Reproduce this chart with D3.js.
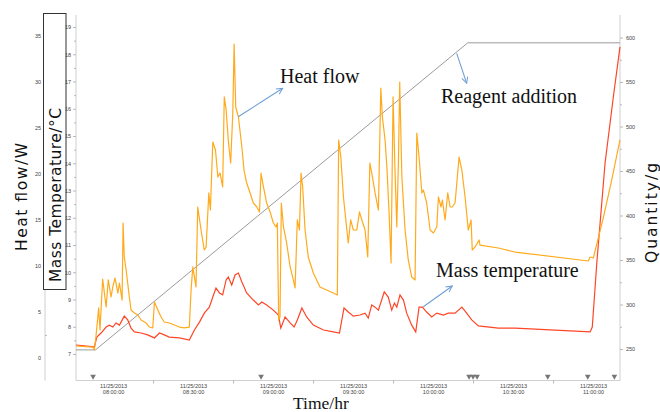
<!DOCTYPE html>
<html>
<head>
<meta charset="utf-8">
<script src="https://cdn.jsdelivr.net/npm/d3@7"></script>
<style>
body { margin: 0; background: #fff; }
svg { display: block; }
.tick text { font-family: "Liberation Sans", Arial, sans-serif; font-size: 5.5px; fill: #444; }
.tick line { stroke: #b8b8b8; }
.ann { font-family: "Liberation Serif", "Times New Roman", serif; font-size: 20px; fill: #111; }
.title { font-family: "DejaVu Sans", sans-serif; font-size: 15.5px; fill: #111; }
</style>
</head>
<body>
<svg id="chart" width="660" height="412"></svg>
<script>
// run start, all series times are minutes after this
const runStart = new Date(2013, 10, 25, 8, 0, 0);

// [minutes, W]
const heatFlow = [
    [-13.9, 1.3], [-7.5, 1.19], [-7.0, 0.87], [-6.4, 2.39], [-5.4, 5.43], [-4.9, 3.04],
    [-3.9, 8.57], [-2.6, 5.54], [-1.8, 8.47], [-0.75, 6.62], [-0.1, 7.71], [0.75, 8.68],
    [1.8, 7.05], [2.4, 8.14], [3.4, 6.29], [3.75, 14.65], [4.2, 10.96], [4.9, 9.55],
    [6.1, 6.62], [6.75, 5.21], [8.0, 4.88], [9.3, 4.67], [10.5, 4.12], [12.4, 3.8],
    [13.6, 3.36], [14.9, 3.26], [15.5, 6.08], [16.8, 5.21], [18.0, 4.45], [19.2, 3.91],
    [21.1, 3.8], [23.0, 3.58], [24.9, 3.36], [26.7, 3.26], [28.6, 3.36], [29.25, 7.38],
    [29.9, 9.88], [31.1, 7.71], [31.75, 16.39], [33.0, 13.89], [34.2, 11.72], [34.9, 12.05],
    [35.9, 17.91], [36.5, 16.06], [37.4, 23.44], [38.4, 22.57], [39.3, 19.64], [40.1, 20.08],
    [41.1, 18.56], [41.7, 28.33], [42.4, 26.92], [43.2, 23.66], [44.1, 21.16], [44.9, 26.59],
    [45.4, 34.08], [46.0, 27.24], [47.0, 26.16], [48.3, 22.9], [49.1, 20.4], [50.1, 18.99],
    [51.4, 17.91], [52.6, 16.82], [53.9, 16.39], [54.9, 15.85], [55.5, 20.08], [56.4, 18.56],
    [57.6, 16.82], [58.9, 15.85], [60.1, 14.65], [61.1, 14.22], [61.6, 14.65], [62.1, 4.12],
    [62.6, 4.45], [63.1, 16.82], [63.9, 14.22], [65.1, 12.48], [66.4, 9.88], [67.6, 8.47],
    [68.25, 7.6], [69.1, 14.98], [69.9, 13.89], [70.5, 20.08], [71.1, 18.56], [72.0, 13.89],
    [73.2, 10.96], [75.1, 9.23], [77.6, 7.71], [80.1, 7.38], [82.6, 7.05], [84.1, 6.84],
    [84.6, 23.66], [85.4, 21.81], [86.4, 17.47], [87.4, 14.65], [88.2, 12.48], [89.1, 14.98],
    [90.1, 13.89], [91.4, 13.89], [92.4, 15.85], [93.3, 14.98], [94.5, 13.89], [95.5, 10.96],
    [96.3, 21.16], [97.0, 20.08], [98.25, 17.91], [99.5, 16.06], [100.4, 29.3], [101.0, 26.16],
    [102.0, 23.66], [102.75, 20.4], [103.5, 15.74], [104.25, 10.31], [105.0, 28.33], [105.75, 20.08],
    [106.4, 14.22], [107.0, 21.16], [107.5, 29.95], [108.3, 19.64], [109.5, 13.89], [110.7, 10.64],
    [112.0, 8.79], [113.25, 8.47], [113.9, 24.42], [114.75, 21.81], [115.8, 17.91], [116.4, 18.23],
    [117.6, 16.82], [118.9, 13.89], [120.1, 13.57], [121.4, 14.22], [122.0, 17.47], [123.0, 16.39],
    [123.5, 17.15], [124.5, 14.98], [125.5, 17.91], [126.4, 16.39], [127.2, 16.39], [128.25, 16.82],
    [129.75, 21.81], [130.8, 20.4], [132.0, 17.47], [133.2, 13.89], [134.25, 14.98], [134.7, 11.72],
    [135.75, 12.05], [137.25, 12.81], [137.6, 12.26], [144.5, 11.94], [150.75, 11.5], [178.2, 10.53],
    [178.9, 10.96], [180.1, 10.85], [183.9, 15.3], [187.0, 19.32], [190.1, 23.66]
];

// [minutes, °C]
const massTemp = [
    [-13.9, 7.33], [-7.0, 7.26], [-6.1, 7.62], [-4.5, 7.77], [-2.6, 7.99], [-1.4, 8.06],
    [-0.1, 7.99], [1.1, 8.14], [2.4, 8.06], [4.2, 8.39], [5.5, 8.25], [6.75, 7.95],
    [8.0, 7.81], [10.5, 7.77], [13.0, 7.7], [15.5, 7.59], [17.4, 7.77], [19.2, 7.7],
    [21.1, 7.62], [24.9, 7.59], [28.6, 7.51], [30.5, 7.88], [32.4, 8.17], [34.2, 8.5],
    [36.1, 8.72], [37.4, 9.09], [38.6, 9.42], [39.9, 9.24], [41.1, 9.17], [42.4, 9.72],
    [43.2, 9.83], [44.5, 9.53], [45.75, 9.9], [47.0, 9.97], [48.3, 9.64], [50.1, 9.24],
    [52.6, 8.98], [54.5, 8.8], [55.8, 8.91], [57.6, 8.8], [60.1, 8.61], [62.0, 8.43],
    [62.9, 7.95], [64.5, 8.36], [66.4, 8.14], [67.9, 7.99], [69.1, 8.25], [70.8, 8.69],
    [72.6, 8.36], [75.1, 8.06], [78.9, 7.88], [82.6, 7.81], [84.9, 7.77], [86.6, 8.69],
    [88.2, 8.54], [90.1, 8.39], [92.6, 8.43], [94.5, 8.5], [95.7, 8.32], [97.0, 8.8],
    [98.25, 8.72], [99.5, 8.61], [101.7, 9.28], [103.2, 9.09], [104.5, 8.61], [105.5, 8.87],
    [106.4, 8.72], [107.6, 9.17], [108.9, 8.98], [110.1, 8.5], [112.0, 8.06], [113.5, 7.81],
    [114.75, 8.72], [116.0, 8.72], [117.6, 8.54], [119.5, 8.36], [121.4, 8.5], [123.9, 8.43],
    [125.7, 8.5], [128.25, 8.5], [130.8, 8.72], [132.6, 8.5], [134.5, 8.25], [137.0, 8.03],
    [144.5, 7.95], [150.75, 7.95], [178.9, 7.81], [179.7, 7.99], [181.4, 10.34], [184.5, 14.01],
    [187.6, 16.43], [190.1, 18.27]
];

// [minutes, g]
const reagentQty = [[-13.9, 249], [-6.6, 249], [133.0, 594], [190.1, 594]];

// event markers along the time axis (minutes)
const eventMarks = [-7.5, 55.5, 133.5, 135, 136.5, 163, 178, 188];

const timeTicks = [0, 30, 60, 90, 120, 150, 180];
const timeMinorTicks = [15, 45, 75, 105, 135, 165];
const heatTicks = [0, 5, 10, 15, 20, 25, 30, 35];
const tempTicks = d3.range(7, 20);
const qtyTicks = [250, 300, 350, 400, 450, 500, 550, 600];

const at = m => new Date(runStart.getTime() + m * 60000);

const svg = d3.select('#chart');
const plotL = 76, plotR = 620, plotT = 15, plotB = 380.5;

const x = d3.scaleTime().domain([at(-13.9), at(190.1)]).range([plotL, plotR]);
const yHeat = d3.scaleLinear().domain([0, 35]).range([358, 35.5]);
const yTemp = d3.scaleLinear().domain([7, 19]).range([354, 27]);
const yQty = d3.scaleLinear().domain([250, 600]).range([349, 37.5]);

function stripDomain(g) { g.select('.domain').remove(); }

// axis lines
const axisLine = (x1, y1, x2, y2) => svg.append('line')
    .attr('x1', x1).attr('y1', y1).attr('x2', x2).attr('y2', y2)
    .attr('stroke', '#cfcfcf').attr('stroke-width', 1);

// heat flow axis (outer left)
axisLine(45, plotT, 45, plotB);
svg.append('g').attr('transform', 'translate(45,0)')
    .call(d3.axisLeft(yHeat).tickValues(heatTicks).tickSize(0).tickPadding(4))
    .call(stripDomain);
svg.append('g').attr('transform', 'translate(45,0)')
    .call(d3.axisRight(yHeat).tickValues(d3.range(2.5, 35, 5)).tickSize(2).tickFormat(''))
    .call(stripDomain);

// box with temperature title
svg.append('rect').attr('x', 43.5).attr('y', 13.5).attr('width', 22.5).attr('height', 276)
    .attr('fill', '#fff').attr('stroke', '#333').attr('stroke-width', 1);

// temperature axis
axisLine(plotL, plotT, plotL, plotB);
svg.append('g').attr('transform', `translate(${plotL},0)`)
    .call(d3.axisLeft(yTemp).tickValues(tempTicks).tickSize(3).tickPadding(2))
    .call(stripDomain);
svg.append('g').attr('transform', `translate(${plotL},0)`)
    .call(d3.axisLeft(yTemp).tickValues(d3.range(7.5, 19, 1)).tickSize(2).tickFormat(''))
    .call(stripDomain);

// quantity axis
axisLine(plotR, plotT, plotR, plotB);
svg.append('g').attr('transform', `translate(${plotR},0)`)
    .call(d3.axisRight(yQty).tickValues(qtyTicks).tickSize(3).tickPadding(3))
    .call(stripDomain);
svg.append('g').attr('transform', `translate(${plotR},0)`)
    .call(d3.axisRight(yQty).tickValues(d3.range(275, 600, 50)).tickSize(2).tickFormat(''))
    .call(stripDomain);

// time axis
axisLine(plotL, plotB, plotR, plotB);
const fmtTime = d3.timeFormat('%H:%M:%S');
const fmtDate = d3.timeFormat('%m/%d/%Y');
const xg = svg.append('g').attr('transform', `translate(0,${plotB})`)
    .call(d3.axisBottom(x).tickValues(timeTicks.map(at)).tickSize(0).tickFormat(''))
    .call(stripDomain);
xg.selectAll('.tick text').each(function (d) {
    const t = d3.select(this).attr('y', 0).attr('dy', null);
    t.append('tspan').attr('x', 0).attr('y', 7.5).text(fmtDate(d));
    t.append('tspan').attr('x', 0).attr('y', 13).text(fmtTime(d));
});
svg.append('g').attr('transform', `translate(0,${plotB})`)
    .call(d3.axisBottom(x).tickValues(timeMinorTicks.map(at)).tickSize(3).tickFormat(''))
    .call(stripDomain);

// event markers
svg.append('g').selectAll('path')
    .data(eventMarks)
    .join('path')
    .attr('d', d3.symbol(d3.symbolTriangle, 14))
    .attr('transform', d => `translate(${x(at(d))},${plotB - 4}) rotate(180)`)
    .attr('fill', '#777');

// series
svg.append('clipPath').attr('id', 'plot-clip')
    .append('rect').attr('x', plotL).attr('y', plotT).attr('width', plotR - plotL + 1).attr('height', plotB - plotT);

const plot = svg.append('g').attr('clip-path', 'url(#plot-clip)');

plot.append('path').datum(reagentQty)
    .attr('fill', 'none').attr('stroke', '#9a9a9a').attr('stroke-width', 1)
    .attr('d', d3.line().x(d => x(at(d[0]))).y(d => yQty(d[1])));

plot.append('path').datum(massTemp)
    .attr('fill', 'none').attr('stroke', '#ff4526').attr('stroke-width', 1.2)
    .attr('d', d3.line().x(d => x(at(d[0]))).y(d => yTemp(d[1])));

plot.append('path').datum(heatFlow)
    .attr('fill', 'none').attr('stroke', '#ffaa1c').attr('stroke-width', 1.2)
    .attr('stroke-linejoin', 'round')
    .attr('d', d3.line().x(d => x(at(d[0]))).y(d => yHeat(d[1])));

// axis titles
svg.append('text').attr('class', 'title')
    .attr('transform', 'translate(27,197) rotate(-90)')
    .attr('text-anchor', 'middle')
    .attr('textLength', 108).attr('lengthAdjust', 'spacing')
    .text('Heat flow/W');
svg.append('text').attr('class', 'title')
    .attr('transform', 'translate(61,195) rotate(-90)')
    .attr('text-anchor', 'middle')
    .attr('textLength', 174).attr('lengthAdjust', 'spacing')
    .text('Mass Temperature/°C');
svg.append('text').attr('class', 'title')
    .attr('transform', 'translate(657,213) rotate(-90)')
    .attr('text-anchor', 'middle')
    .attr('textLength', 100).attr('lengthAdjust', 'spacing')
    .text('Quantity/g');
svg.append('text').attr('class', 'ann')
    .attr('x', 293).attr('y', 408.5).style('font-size', '17.5px')
    .text('Time/hr');

// annotations with arrows
const defs = svg.append('defs');
defs.append('marker').attr('id', 'arrow')
    .attr('viewBox', '0 0 10 10').attr('refX', 9).attr('refY', 5)
    .attr('markerWidth', 7).attr('markerHeight', 7).attr('orient', 'auto')
    .append('path').attr('d', 'M1,1 L9,5 L1,9')
    .attr('fill', 'none').attr('stroke', '#6f9fd6').attr('stroke-width', 1.3);

const arrow = (x1, y1, x2, y2) => svg.append('line')
    .attr('x1', x1).attr('y1', y1).attr('x2', x2).attr('y2', y2)
    .attr('stroke', '#6f9fd6').attr('stroke-width', 1.1)
    .attr('marker-end', 'url(#arrow)');

arrow(238.3, 116.7, 282.7, 88.3);
arrow(456.7, 53.3, 466.7, 83.3);
arrow(423.3, 306.7, 452.3, 286);

svg.append('text').attr('class', 'ann').attr('x', 280).attr('y', 83).text('Heat flow');
svg.append('text').attr('class', 'ann').attr('x', 441).attr('y', 103).text('Reagent addition');
svg.append('text').attr('class', 'ann').attr('x', 436).attr('y', 277).text('Mass temperature');
</script>
</body>
</html>
